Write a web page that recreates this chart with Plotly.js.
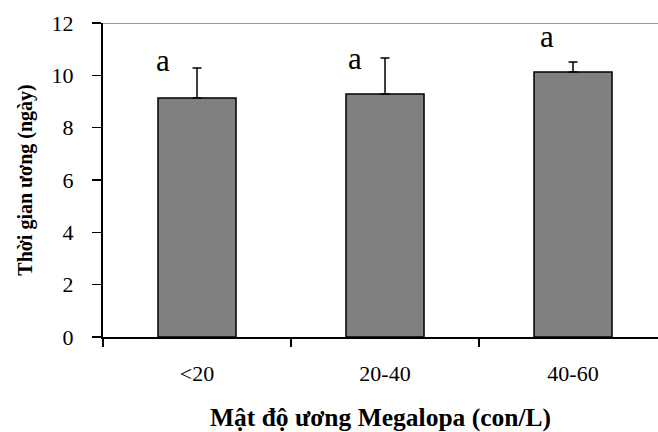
<!DOCTYPE html>
<html>
<head>
<meta charset="utf-8">
<script src="https://cdn.plot.ly/plotly-3.0.1.min.js"></script>
<style>html,body{margin:0;padding:0;background:#fff;}#chart{width:658px;height:432px;}</style>
</head>
<body>
<div id="chart"></div>
<script>
var categories = ["<20", "20-40", "40-60"];
var meanDays = [9.13, 9.29, 10.13];
var errDays = [1.15, 1.37, 0.38];
var letters = ["a", "a", "a"];
var letterY = [10.58, 10.66, 11.5];
var yTicks = [0, 2, 4, 6, 8, 10, 12];

var serif = "Liberation Serif";

var trace = {
  type: "bar",
  x: categories,
  y: meanDays,
  marker: {color: "#808080", line: {color: "#000", width: 1.5}},
  error_y: {type: "data", array: errDays, symmetric: false, arrayminus: [0,0,0], color: "#000", thickness: 1.5, width: 4.5},
  hoverinfo: "none"
};

var xShift = [-34, -30, -26];
var annotations = categories.map(function(c, i) {
  return {x: c, y: letterY[i], text: letters[i], showarrow: false, xshift: xShift[i],
          yanchor: "middle", font: {family: serif, size: 31, color: "#000"}};
});

var layout = {
  width: 658, height: 432,
  margin: {l: 103, r: 0, t: 23, b: 95},
  paper_bgcolor: "#fff", plot_bgcolor: "#fff",
  font: {family: serif, color: "#000", size: 22},
  showlegend: false,
  bargap: 0.585,
  xaxis: {
    type: "category",
    range: [-0.5, 2.452],
    showline: true, linecolor: "#000", linewidth: 2,
    ticks: "outside", ticklen: 8, tickwidth: 1.5, tickcolor: "#000",
    tickson: "boundaries",
    ticklabelstandoff: 16,
    showgrid: false, zeroline: false,
    tickfont: {family: serif, size: 22, color: "#000"},
    title: {text: "Mật độ ương Megalopa (con/L)", font: {family: serif, size: 25.5, color: "#000", weight: "bold"}, standoff: 24}
  },
  yaxis: {
    range: [0, 12],
    tickvals: yTicks,
    ticktext: yTicks.map(String),
    showline: true, linecolor: "#000", linewidth: 2,
    ticks: "outside", ticklen: 9, tickwidth: 1.5, tickcolor: "#000",
    ticklabelstandoff: 14,
    showgrid: false, zeroline: false,
    tickfont: {family: serif, size: 22, color: "#000"},
    title: {text: "Thời gian ương (ngày)", font: {family: serif, size: 20, color: "#000", weight: "bold"}, standoff: 14}
  },
  shapes: [{type: "line", xref: "paper", yref: "y", x0: 0, x1: 1, y0: 12, y1: 12, line: {color: "#999", width: 2}}],
  annotations: annotations
};

Plotly.newPlot("chart", [trace], layout, {displayModeBar: false, staticPlot: true});
</script>
</body>
</html>
